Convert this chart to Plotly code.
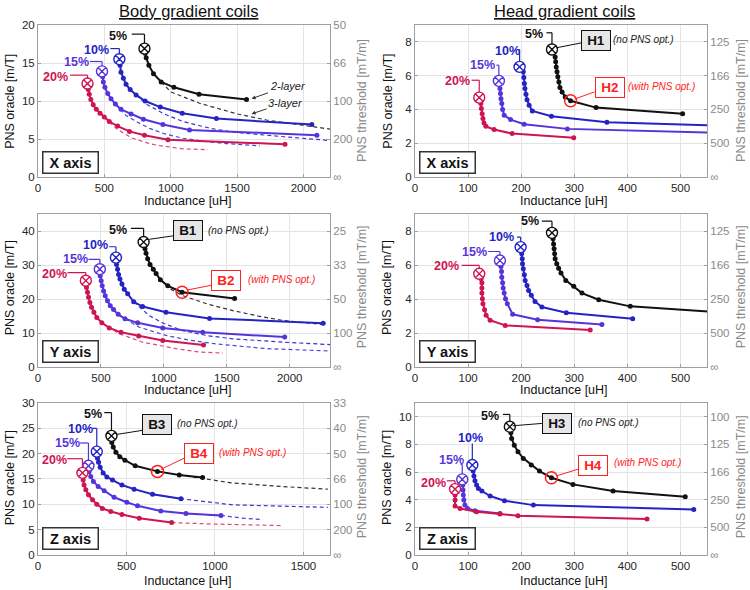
import plotly.graph_objects as go

# values: L = inductance [uH], P = PNS oracle [m/T]
# "d" lists are the dashed 3-layer curves

# body coil, X axis
bx5_L = [802, 807, 815, 835, 870, 928, 1024, 1213, 1571]
bx5_P = [16.9, 16.3, 15.7, 14.7, 13.6, 12.5, 11.8, 10.9, 10.2]
bx5_dL = [928, 1000, 1218, 1500, 1722, 2000, 2200]
bx5_dP = [12.5, 11.2, 9.7, 8.3, 7.5, 6.8, 6.3]
bx10_L = [613, 618, 625, 643, 663, 694, 739, 807, 921, 1087, 1344, 2063]
bx10_P = [15.5, 14.7, 13.8, 13.0, 12.2, 11.5, 10.8, 10.0, 9.2, 8.4, 7.7, 6.9]
bx10_dL = [739, 815, 950, 1092, 1300, 1470, 1849, 2200]
bx10_dP = [10.8, 9.6, 8.3, 7.3, 6.4, 5.9, 5.3, 4.8]
bx15_L = [482, 487, 492, 504, 525, 550, 583, 625, 701, 794, 941, 1142, 2101]
bx15_P = [13.9, 13.2, 12.5, 11.8, 11.0, 10.3, 9.6, 8.9, 8.3, 7.6, 6.9, 6.2, 5.5]
bx15_dL = [583, 663, 750, 840, 950, 1092, 1250, 1420, 1672]
bx15_dP = [9.6, 8.1, 7.2, 6.4, 5.7, 5.1, 4.7, 4.4, 4.1]
bx20_L = [373, 378, 386, 398, 416, 439, 467, 499, 537, 600, 689, 802, 979, 1861]
bx20_P = [12.3, 11.5, 10.9, 10.2, 9.5, 8.9, 8.4, 7.9, 7.3, 6.7, 6.0, 5.5, 4.9, 4.3]
bx20_dL = [499, 588, 650, 714, 800, 890, 1092, 1281]
bx20_dP = [7.9, 6.4, 5.7, 5.1, 4.6, 4.2, 3.7, 3.6]

# head coil, X axis
hx5_L = [258, 264, 265, 266, 267.5, 269, 271, 273, 277, 283, 293, 341, 504]
hx5_P = [7.55, 7.11, 6.82, 6.52, 6.23, 5.93, 5.63, 5.30, 5.04, 4.74, 4.51, 4.11, 3.74]
hx10_L = [197, 204, 205, 206, 207, 209, 211, 215, 221, 257, 361.5, 560]
hx10_P = [6.52, 6.23, 5.89, 5.53, 5.24, 4.90, 4.58, 4.25, 3.91, 3.60, 3.24, 3.05]
hx15_L = [158, 160, 161, 162, 163.5, 165, 168, 180, 205.5, 287, 560]
hx15_P = [5.69, 5.24, 4.94, 4.64, 4.35, 3.99, 3.66, 3.40, 3.12, 2.85, 2.62]
hx20_L = [121, 124, 125, 126.5, 128, 130, 133.5, 149, 183, 299]
hx20_P = [4.70, 4.35, 4.05, 3.75, 3.46, 3.20, 3.00, 2.81, 2.57, 2.33]

# body coil, Y axis
by5_L = [839, 850, 858, 871, 890, 916, 938, 972, 1031, 1145, 1562]
by5_P = [36.8, 34.8, 33.5, 31.9, 30.2, 28.8, 27.5, 25.7, 23.9, 22.0, 20.2]
by5_dL = [972, 1050, 1150, 1350, 1548, 1750, 1947, 2150, 2292]
by5_dP = [25.7, 23.0, 21.0, 18.5, 16.6, 15.0, 13.7, 12.9, 12.4]
by10_L = [619, 624, 632, 640, 651, 667, 685, 712, 760, 831, 1017, 1363, 2266]
by10_P = [32.2, 30.2, 28.8, 27.2, 25.9, 24.4, 22.9, 21.6, 19.2, 17.8, 16.1, 14.3, 12.9]
by10_dL = [760, 884, 1000, 1150, 1350, 1548, 1947, 2320]
by10_dP = [19.2, 15.1, 12.8, 10.7, 9.2, 8.3, 7.3, 6.6]
by15_L = [491, 494, 502, 510, 521, 534, 552, 574, 600, 637, 691, 792, 991, 1309, 1960]
by15_P = [28.8, 26.8, 25.4, 23.9, 22.4, 21.0, 19.5, 18.0, 16.9, 15.5, 14.2, 13.0, 11.5, 10.2, 8.8]
by15_dL = [691, 805, 1017, 1200, 1416, 1814, 2320]
by15_dP = [14.2, 11.7, 9.3, 7.9, 6.8, 5.4, 4.7]
by20_L = [380, 385, 393, 401, 412, 425, 444, 467, 507, 566, 659, 800, 991, 1315]
by20_P = [25.4, 23.4, 22.0, 20.5, 19.0, 17.6, 16.1, 14.6, 13.0, 11.5, 10.2, 9.1, 7.8, 6.5]
by20_dL = [507, 645, 831, 1000, 1097, 1283, 1469]
by20_dP = [13.0, 9.8, 7.3, 6.0, 5.4, 4.4, 4.1]

# head coil, Y axis
hy5_L = [258, 260, 261, 262, 263, 264, 267, 270.5, 275, 284, 299, 314.5, 346, 405.5, 560]
hy5_P = [7.9, 7.55, 7.25, 6.96, 6.67, 6.37, 6.08, 5.82, 5.53, 5.10, 4.75, 4.35, 3.96, 3.57, 3.25]
hy10_L = [199, 201, 202, 202.5, 204, 206, 207.5, 211, 214, 219, 226, 239, 285, 410]
hy10_P = [7.06, 6.67, 6.37, 6.08, 5.78, 5.43, 5.10, 4.80, 4.51, 4.22, 3.86, 3.53, 3.20, 2.84]
hy15_L = [160, 162, 163, 163.5, 165, 166, 168, 170.5, 174, 184, 231, 352]
hy15_P = [6.27, 5.92, 5.63, 5.29, 4.96, 4.65, 4.35, 4.02, 3.73, 3.10, 2.78, 2.50]
hy20_L = [121, 124.5, 126, 126, 126, 127, 128, 131, 134, 141.5, 170, 330]
hy20_P = [5.49, 5.20, 4.96, 4.65, 4.35, 4.02, 3.73, 3.37, 3.04, 2.75, 2.45, 2.18]

# body coil, Z axis
bz5_L = [415, 417, 425, 440, 462, 491, 549, 675, 798, 930]
bz5_P = [23.5, 22.2, 21.3, 20.3, 19.4, 18.7, 17.6, 16.5, 15.8, 15.3]
bz5_dL = [798, 930, 1100, 1383, 1638]
bz5_dP = [15.8, 15.1, 14.2, 13.5, 13.0]
bz10_L = [332, 336, 342, 351, 368, 389, 421, 474, 543, 647, 808]
bz10_P = [20.4, 19.1, 18.3, 17.3, 16.2, 15.4, 14.8, 13.8, 13.0, 12.0, 11.1]
bz10_dL = [647, 808, 1100, 1383, 1638]
bz10_dP = [12.0, 11.1, 9.9, 9.6, 9.4]
bz15_L = [285, 289, 298, 313, 340, 374, 430, 502, 562, 694, 836, 1034]
bz15_P = [17.6, 16.5, 15.5, 14.5, 13.5, 12.7, 11.4, 10.4, 9.7, 8.7, 8.2, 7.8]
bz15_dL = [836, 1034, 1150, 1270]
bz15_dP = [8.2, 7.8, 7.3, 7.0]
bz20_L = [251, 255, 260, 270, 285, 308, 332, 364, 411, 474, 572, 755]
bz20_P = [16.2, 14.8, 13.8, 12.9, 11.9, 10.9, 10.0, 9.2, 8.6, 8.0, 7.25, 6.4]
bz20_dL = [755, 1006, 1383]
bz20_dP = [6.4, 6.1, 5.8]

# head coil, Z axis
hz5_L = [178.6, 180.5, 182, 187, 194, 204, 219, 234.5, 257, 297.5, 373, 509]
hz5_P = [9.28, 8.84, 8.43, 7.95, 7.47, 6.99, 6.51, 6.07, 5.59, 5.11, 4.63, 4.22]
hz10_L = [108, 109.5, 111, 113, 116, 119.5, 126, 141.5, 168.5, 223, 525]
hz10_P = [6.51, 6.07, 5.71, 5.37, 5.06, 4.82, 4.63, 4.27, 3.93, 3.61, 3.30]
hz15_L = [89, 90, 90.5, 91, 92, 94, 99, 113, 160]
hz15_P = [5.47, 5.06, 4.70, 4.34, 3.98, 3.61, 3.37, 3.20, 3.01]
hz20_L = [75.5, 75.5, 75.5, 75.5, 85, 116, 160, 194, 437]
hz20_P = [4.77, 4.34, 3.98, 3.54, 3.37, 3.13, 2.96, 2.84, 2.60]

# tick labels
body_x_ticks = [0, 500, 1000, 1500, 2000]
head_x_ticks = [0, 100, 200, 300, 400, 500]
bx_y_ticks = [0, 5, 10, 15, 20]
bx_thr = ["\u221e", "200", "100", "66", "50"]
hx_y_ticks = [0, 2, 4, 6, 8]
hx_thr = ["\u221e", "500", "250", "166", "125"]
by_y_ticks = [0, 10, 20, 30, 40]
by_thr = ["\u221e", "100", "50", "33", "25"]
bz_y_ticks = [0, 5, 10, 15, 20, 25, 30]
bz_thr = ["\u221e", "200", "100", "66", "50", "40", "33"]
hz_y_ticks = [0, 2, 4, 6, 8, 10]
hz_thr = ["\u221e", "500", "250", "166", "125", "100"]

FONT = "Liberation Sans, Arial, sans-serif"
C5, C10, C15, C20 = "#111111", "#2424c4", "#5634dc", "#cf1452"
DASH = {C5: "#333333", C10: "#3535d0", C15: "#4646e0", C20: "#e0487a"}
RED = "#ff2020"
GRID = "#e4e4e4"
AXC = "#9e9e9e"

COLS = [(0.0507, 0.4400), (0.5533, 0.9427)]
ROWS = [(0.7000, 0.9576), (0.3780, 0.6370), (0.0593, 0.3170)]

fig = go.Figure()
ann = []
shp = []


def refs(n):
    return ("x" if n == 1 else "x%d" % n), ("y" if n == 1 else "y%d" % n)


def add_series(n, L, P, color, dL=None, dP=None):
    xr, yr = refs(n)
    if dL:
        fig.add_trace(go.Scatter(x=dL, y=dP, xaxis=xr, yaxis=yr, mode="lines",
                                 line=dict(color=DASH[color], width=1.2, dash="4px,3px")))
    fig.add_trace(go.Scatter(x=L, y=P, xaxis=xr, yaxis=yr, mode="lines+markers",
                             line=dict(color=color, width=2),
                             marker=dict(size=5, color=color)))
    fig.add_trace(go.Scatter(x=L[:1], y=P[:1], xaxis=xr, yaxis=yr, mode="markers",
                             marker=dict(symbol="circle-x", size=11, color="white",
                                         line=dict(color=color, width=1.4))))


def highlight(n, L, P, i):
    xr, yr = refs(n)
    fig.add_trace(go.Scatter(x=[L[i]], y=[P[i]], xaxis=xr, yaxis=yr, mode="markers",
                             marker=dict(symbol="circle-open", size=12, color=RED,
                                         line=dict(width=1.5))))


def pct(n, text, color, tx, ty, hx0, hy, mx, vy1):
    xr, yr = refs(n)
    ann.append(dict(x=tx, y=ty, xref=xr, yref=yr, text="<b>%s</b>" % text, showarrow=False,
                    font=dict(size=12.5, color=color)))
    if hx0 is not None:
        shp.append(dict(type="line", xref=xr, yref=yr, x0=hx0, y0=hy, x1=mx, y1=hy,
                        line=dict(color=color, width=1.2)))
    shp.append(dict(type="line", xref=xr, yref=yr, x0=mx, y0=hy, x1=mx, y1=vy1,
                    line=dict(color=color, width=1.2)))


def tag(n, text, red, bx, by, lx0, ly0, lx1, ly1, note, nx, ny):
    xr, yr = refs(n)
    col = RED if red else "#111111"
    ann.append(dict(x=bx, y=by, xref=xr, yref=yr, text="<b>%s</b>" % text, showarrow=False,
                    font=dict(size=13.5, color=col), bgcolor="white" if red else "#e6e6e6",
                    bordercolor=col, borderwidth=1, width=26, height=17))
    shp.append(dict(type="line", xref=xr, yref=yr, x0=lx0, y0=ly0, x1=lx1, y1=ly1,
                    line=dict(color=col, width=1)))
    ann.append(dict(x=nx, y=ny, xref=xr, yref=yr, text="<i>%s</i>" % note, showarrow=False,
                    font=dict(size=10, color=RED if red else "#222222")))


def axis_box(n, text, x, y):
    xr, yr = refs(n)
    ann.append(dict(x=x, y=y, xref=xr, yref=yr, text="<b>%s</b>" % text, showarrow=False,
                    font=dict(size=14.5, color="#111111"), bgcolor="white",
                    bordercolor="#333333", borderwidth=1.5, width=52, height=18))


# panel 1: body X
add_series(1, bx5_L, bx5_P, C5, bx5_dL, bx5_dP)
add_series(1, bx10_L, bx10_P, C10, bx10_dL, bx10_dP)
add_series(1, bx15_L, bx15_P, C15, bx15_dL, bx15_dP)
add_series(1, bx20_L, bx20_P, C20, bx20_dL, bx20_dP)
pct(1, "5%", C5, 600, 18.5, 706, 18.8, bx5_L[0], 17.6)
pct(1, "10%", C10, 444, 16.7, 545, 16.9, bx10_L[0], 16.2)
pct(1, "15%", C15, 290, 15.1, 391, 15.2, bx15_L[0], 14.6)
pct(1, "20%", C20, 134, 13.2, 242, 13.4, bx20_L[0], 13.0)
axis_box(1, "X axis", 242, 1.9)
ann.append(dict(x=1609, y=10.3, ax=1880, ay=12.0, xref="x", yref="y", axref="x", ayref="y",
                text="<i>2-layer</i>", showarrow=True, arrowhead=2, arrowsize=0.8,
                arrowwidth=1, arrowcolor="#333333", font=dict(size=11, color="#222222")))
ann.append(dict(x=1609, y=8.3, ax=1865, ay=9.8, xref="x", yref="y", axref="x", ayref="y",
                text="<i>3-layer</i>", showarrow=True, arrowhead=2, arrowsize=0.8,
                arrowwidth=1, arrowcolor="#333333", font=dict(size=11, color="#222222")))

# panel 2: head X
add_series(2, hx5_L, hx5_P, C5)
add_series(2, hx10_L, hx10_P, C10)
add_series(2, hx15_L, hx15_P, C15)
add_series(2, hx20_L, hx20_P, C20)
highlight(2, hx5_L, hx5_P, 10)
pct(2, "5%", C5, 224, 8.46, 247.5, 8.54, hx5_L[0], 7.88)
pct(2, "10%", C10, 175, 7.47, 195, 7.55, hx10_L[0], 6.85)
pct(2, "15%", C15, 128, 6.62, 153.5, 6.62, hx15_L[0], 6.02)
pct(2, "20%", C20, 80, 5.67, 106.5, 5.73, hx20_L[0], 5.03)
tag(2, "H1", False, 340, 8.06, 313, 7.94, 266, 7.65, "(no PNS opt.)", 431, 8.14)
tag(2, "H2", True, 367, 5.30, 338, 5.04, 301, 4.62, "(with PNS opt.)", 465, 5.38)
axis_box(2, "X axis", 61, 0.85)

# panel 3: body Y
add_series(3, by5_L, by5_P, C5, by5_dL, by5_dP)
add_series(3, by10_L, by10_P, C10, by10_dL, by10_dP)
add_series(3, by15_L, by15_P, C15, by15_dL, by15_dP)
add_series(3, by20_L, by20_P, C20, by20_dL, by20_dP)
highlight(3, by5_L, by5_P, 9)
pct(3, "5%", C5, 632, 40.2, 738, 40.8, by5_L[0], 38.4)
pct(3, "10%", C10, 459, 35.8, 566, 35.4, by10_L[0], 33.8)
pct(3, "15%", C15, 295, 31.7, 401, 31.7, by15_L[0], 30.4)
pct(3, "20%", C20, 127, 27.3, 234, 27.8, by20_L[0], 27.0)
tag(3, "B1", False, 1190, 40.2, 1089, 38.7, 884, 37.6, "(no PNS opt.)", 1596, 40.2)
tag(3, "B2", True, 1495, 25.4, 1384, 24.1, 1190, 22.7, "(with PNS opt.)", 1934, 25.9)
axis_box(3, "Y axis", 255, 4.7)

# panel 4: head Y
add_series(4, hy5_L, hy5_P, C5)
add_series(4, hy10_L, hy10_P, C10)
add_series(4, hy15_L, hy15_P, C15)
add_series(4, hy20_L, hy20_P, C20)
pct(4, "5%", C5, 217, 8.59, 239, 8.59, hy5_L[0], 8.23)
pct(4, "10%", C10, 163.5, 7.65, 192, 7.65, hy10_L[0], 7.39)
pct(4, "15%", C15, 112, 6.80, 138, 6.80, hy15_L[0], 6.6)
pct(4, "20%", C20, 60, 5.92, 88, 5.98, hy20_L[0], 5.82)
axis_box(4, "Y axis", 61, 0.94)

# panel 5: body Z
add_series(5, bz5_L, bz5_P, C5, bz5_dL, bz5_dP)
add_series(5, bz10_L, bz10_P, C10, bz10_dL, bz10_dP)
add_series(5, bz15_L, bz15_P, C15, bz15_dL, bz15_dP)
add_series(5, bz20_L, bz20_P, C20, bz20_dL, bz20_dP)
highlight(5, bz5_L, bz5_P, 7)
pct(5, "5%", C5, 313, 27.9, 374, 28.1, bz5_L[0], 24.6)
pct(5, "10%", C10, 242, 24.9, 308, 25.0, bz10_L[0], 21.5)
pct(5, "15%", C15, 166, 22.1, 238, 22.1, bz15_L[0], 18.7)
pct(5, "20%", C20, 91, 18.7, 166, 19.0, bz20_L[0], 17.3)
tag(5, "B3", False, 670, 25.7, 590, 24.6, 447, 23.8, "(no PNS opt.)", 958, 25.9)
tag(5, "B4", True, 911, 20.0, 826, 19.1, 694, 16.9, "(with PNS opt.)", 1213, 20.2)
axis_box(5, "Z axis", 181, 3.2)

# panel 6: head Z
add_series(6, hz5_L, hz5_P, C5)
add_series(6, hz10_L, hz10_P, C10)
add_series(6, hz15_L, hz15_P, C15)
add_series(6, hz20_L, hz20_P, C20)
highlight(6, hz5_L, hz5_P, 8)
pct(6, "5%", C5, 141.5, 10.07, 165.5, 10.17, hz5_L[0], 9.68)
pct(6, "10%", C10, 105, 8.48, None, 8.07, hz10_L[0], 6.91)
pct(6, "15%", C15, 68, 6.87, 86, 6.55, hz15_L[0], 5.87)
pct(6, "20%", C20, 34.6, 5.23, 60, 5.37, hz20_L[0], 5.17)
tag(6, "H3", False, 267, 9.52, 239, 9.52, 184, 9.35, "(no PNS opt.)", 365, 9.57)
tag(6, "H4", True, 336, 6.46, 308, 6.22, 267, 5.73, "(with PNS opt.)", 438, 6.67)
axis_box(6, "Z axis", 61, 1.16)

# axes
panels = [
    (1, [0, 2200], body_x_ticks, [0, 20], bx_y_ticks, bx_thr),
    (2, [0, 550], head_x_ticks, [0, 9], hx_y_ticks, hx_thr),
    (3, [0, 2320], body_x_ticks, [0, 45], by_y_ticks, by_thr),
    (4, [0, 550], head_x_ticks, [0, 9], hx_y_ticks, hx_thr),
    (5, [0, 1650], [0, 500, 1000, 1500], [0, 30], bz_y_ticks, bz_thr),
    (6, [0, 550], head_x_ticks, [0, 11], hz_y_ticks, hz_thr),
]
layout_axes = {}
for n, xrng, xt, yrng, yt, thr in panels:
    row, col = (n - 1) // 2, (n - 1) % 2
    xr, yr = refs(n)
    common = dict(showgrid=True, gridcolor=GRID, gridwidth=1, showline=True, linecolor=AXC,
                  linewidth=1, ticks="inside", ticklen=3, tickcolor=AXC, zeroline=False,
                  automargin=False, tickfont=dict(size=11.5, color="#262626"))
    layout_axes["xaxis" if n == 1 else "xaxis%d" % n] = dict(
        domain=COLS[col], anchor=yr, range=xrng, tickvals=xt, mirror=True, **common)
    layout_axes["yaxis" if n == 1 else "yaxis%d" % n] = dict(
        domain=ROWS[row], anchor=xr, range=yrng, tickvals=yt, **common)
    layout_axes["yaxis%d" % (n + 6)] = dict(
        anchor=xr, overlaying=yr, side="right", range=yrng, tickvals=yt, ticktext=thr,
        showgrid=False, showline=True, linecolor=AXC, ticks="inside", ticklen=3,
        tickcolor=AXC, zeroline=False, automargin=False,
        tickfont=dict(size=11.5, color="#8a8a8a"))
    fig.add_trace(go.Scatter(x=[None], y=[None], xaxis=xr, yaxis="y%d" % (n + 6)))

# titles and axis labels (paper coords, anchored at their centres)
XC = [0.2507, 0.752]
mid = dict(xref="paper", yref="paper", xanchor="center", yanchor="middle", showarrow=False)
for i, t in enumerate(["Body gradient coils", "Head gradient coils"]):
    ann.append(dict(x=XC[i], y=0.982, text="<u>%s</u>" % t,
                    font=dict(size=16.5, color="#111111"), **mid))
for yy in [0.659, 0.339, 0.0153]:
    for xx in XC:
        ann.append(dict(x=xx, y=yy, text="Inductance [uH]",
                        font=dict(size=12.5, color="#111111"), **mid))
for yy in [0.829, 0.513, 0.191]:
    for xx in [0.0133, 0.517]:
        ann.append(dict(x=xx, y=yy, text="PNS oracle [m/T]", textangle=-90,
                        font=dict(size=12.5, color="#111111"), **mid))
    for xx in [0.4827, 0.988]:
        ann.append(dict(x=xx, y=yy, text="PNS threshold [mT/m]", textangle=-90,
                        font=dict(size=12.5, color="#8a8a8a"), **mid))

fig.update_layout(width=750, height=590, template="none",
                  margin=dict(l=0, r=0, t=0, b=0, pad=0, autoexpand=False),
                  paper_bgcolor="white", plot_bgcolor="white", showlegend=False,
                  hovermode=False,
                  font=dict(family=FONT), annotations=ann, shapes=shp, **layout_axes)

# drop the browser's default 8px body margin so the figure sits at the page corner
fig.write_html("out.html", config={"displayModeBar": False},
               post_script="document.body.style.margin='0px';")
